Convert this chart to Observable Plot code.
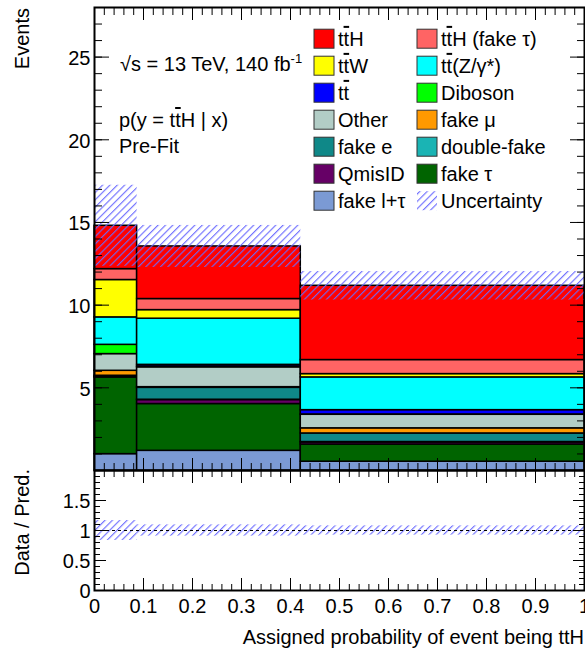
<!DOCTYPE html>
<html><head><meta charset="utf-8">
<script src="https://cdn.jsdelivr.net/npm/d3@7"></script>
<script src="https://cdn.jsdelivr.net/npm/@observablehq/plot@0.6"></script>
<style>
html,body{margin:0;padding:0;background:#fff;}
#wrap{position:relative;width:585px;height:652px;overflow:hidden;font-family:"Liberation Sans",Arial,sans-serif;}
#wrap > svg{position:absolute;left:0;overflow:visible;}
</style></head><body><div id="wrap"></div>
<script>
// ---------- data ----------
const binEdges = [0, 0.087, 0.421, 1];
// processes listed top of stack -> bottom (legend order)
const processes = ["tt\u0304H","tt\u0304H (fake \u03c4)","tt\u0304W","tt\u0304(Z/\u03b3*)","tt\u0304","Diboson","Other","fake \u03bc","fake e","double-fake","QmisID","fake \u03c4","fake l+\u03c4"];
const colors = ["#ff0000","#ff6464","#ffff00","#00ffff","#0000ff","#00ff00","#b2cdc6","#ff9900","#0f8888","#1ab4b4","#660066","#006400","#7b9ad4"];
const ttH        = [2.62, 3.18, 4.49];
const ttHFakeTau = [0.66, 0.67, 0.85];
const ttW        = [2.26, 0.52, 0.20];
const ttZ        = [1.66, 2.79, 1.98];
const ttbar      = [0.00, 0.10, 0.26];
const diboson    = [0.56, 0.05, 0.02];
const other      = [1.01, 1.20, 0.82];
const fakeMu     = [0.30, 0.04, 0.31];
const fakeE      = [0.08, 0.72, 0.52];
const doubleFake = [0.00, 0.02, 0.02];
const qmisID     = [0.02, 0.24, 0.13];
const fakeTau    = [4.64, 2.83, 1.04];
const fakeLTau   = [0.99, 1.19, 0.53];
const uncertainty = [2.45, 1.27, 0.86];
const legendUnc = "Uncertainty";
const yTicksMain = [5, 10, 15, 20, 25];
const yTicksRatio = [0, 0.5, 1, 1.5];
const yTickLabelsRatio = ["0", "0.5", "1", "1.5"];
const xTicks = [0, 0.1, 0.2, 0.3, 0.4, 0.5, 0.6, 0.7, 0.8, 0.9, 1];
const xTickLabels = ["0","0.1","0.2","0.3","0.4","0.5","0.6","0.7","0.8","0.9","1"];
const xTitle = "Assigned probability of event being ttH";
const yTitleMain = "Events";
const yTitleRatio = "Data / Pred.";
const labelLines = ["p(y = tt\u0304H | x)", "Pre-Fit"];

// ---------- derived tables ----------
const series = [ttH, ttHFakeTau, ttW, ttZ, ttbar, diboson, other, fakeMu, fakeE, doubleFake, qmisID, fakeTau, fakeLTau];
const stackRows = [];
const totals = [];
for (let b = 0; b < 3; b++) {
  let cum = 0;
  for (let p = series.length - 1; p >= 0; p--) {
    const v = series[p][b];
    stackRows.push({x1: binEdges[b], x2: binEdges[b+1], y1: cum, y2: cum + v, color: colors[p], name: processes[p]});
    cum += v;
  }
  totals.push(cum);
}
const uncRows = totals.map((t, b) => ({x1: binEdges[b], x2: binEdges[b+1], lo: t - uncertainty[b], hi: t + uncertainty[b]}));
const ratioRows = totals.map((t, b) => ({x1: binEdges[b], x2: binEdges[b+1], lo: 1 - uncertainty[b]/t, hi: 1 + uncertainty[b]/t}));

const FONT = "'Liberation Sans', Arial, Helvetica, sans-serif";
function hatchDefs(id) {
  return () => {
    const defs = d3.create("svg:defs");
    const p = defs.append("pattern").attr("id", id).attr("patternUnits", "userSpaceOnUse")
      .attr("width", 5.2).attr("height", 5.2).attr("patternTransform", "rotate(45)");
    p.append("line").attr("x1", 0.6).attr("y1", 0).attr("x2", 0.6).attr("y2", 5.2)
      .attr("stroke", "#6a6aff").attr("stroke-width", 1.1);
    return defs.node();
  };
}
const blank = () => "";
// text with "tt̄" drawn as t + overlined t
function richText(sel, str) {
  const parts = str.split("tt\u0304");
  parts.forEach((p, i) => {
    if (i > 0) {
      sel.append("tspan").text("t");
      sel.append("tspan").attr("text-decoration", "overline").style("text-decoration", "overline").text("t");
    }
    if (p) sel.append("tspan").text(p);
  });
}

// ---------- main panel ----------
const main = Plot.plot({
  width: 585, height: 471,
  marginTop: 7, marginBottom: 1, marginLeft: 94, marginRight: 1,
  x: {domain: [0, 1]},
  y: {domain: [0, 28]},
  color: {type: "identity"},
  style: {fontFamily: FONT, fontSize: "20px", color: "black", background: "transparent"},
  marks: [
    hatchDefs("hatchMain"),
    Plot.rect(stackRows, {x1: "x1", x2: "x2", y1: "y1", y2: "y2", fill: "color", stroke: "black", strokeWidth: 1.5}),
    Plot.rect(uncRows, {x1: "x1", x2: "x2", y1: "lo", y2: "hi", fill: "url(#hatchMain)"}),
    // ticks (inward, ROOT style)
    Plot.axisY({anchor: "left", ticks: d3.range(0, 29, 1), tickSize: -8, tickFormat: blank, label: null}),
    Plot.axisY({anchor: "left", ticks: d3.range(0, 29, 5), tickSize: -15, tickFormat: blank, label: null}),
    Plot.axisY({anchor: "right", ticks: d3.range(0, 29, 1), tickSize: -8, tickFormat: blank, label: null}),
    Plot.axisY({anchor: "right", ticks: d3.range(0, 29, 5), tickSize: -15, tickFormat: blank, label: null}),
    Plot.axisX({anchor: "top", ticks: d3.range(0, 51).map(i => i/50), tickSize: -7, tickFormat: blank, label: null}),
    Plot.axisX({anchor: "top", ticks: xTicks, tickSize: -12, tickFormat: blank, label: null}),
    Plot.axisX({anchor: "bottom", ticks: d3.range(0, 51).map(i => i/50), tickSize: -7, tickFormat: blank, label: null}),
    Plot.axisX({anchor: "bottom", ticks: xTicks, tickSize: -12, tickFormat: blank, label: null}),
    Plot.axisY({anchor: "left", ticks: yTicksMain, tickSize: 0, tickPadding: 4, dy: 1.5, label: null}),
    Plot.frame({stroke: "black", strokeWidth: 2}),
    // annotations and legend
    () => {
      const g = d3.create("svg:g").attr("font-family", FONT).attr("font-size", 20).attr("fill", "black").attr("text-anchor", "start");
      const t = g.append("text").attr("x", 120).attr("y", 71).attr("text-anchor", "start");
      t.append("tspan").text("\u221as = 13 TeV, 140 fb");
      t.append("tspan").attr("font-size", 13).attr("dy", -8).text("-1");
      labelLines.forEach((s, i) => richText(g.append("text").attr("x", 119).attr("y", 127 + i * 26).attr("text-anchor", "start"), s));
      g.append("text").attr("transform", "translate(28.5,8) rotate(-90)").attr("text-anchor", "end").text(yTitleMain);
      // legend
      const entries = processes.map((n, i) => ({name: n, fill: colors[i]})).concat([{name: legendUnc, fill: "url(#hatchMain)", unc: true}]);
      entries.forEach((e, i) => {
        const col = i % 2, row = Math.floor(i / 2);
        const bx = col === 0 ? 314 : 417;
        const cy = 38.7 + row * 27;
        g.append("rect").attr("x", bx).attr("y", cy - 9.5).attr("width", 20).attr("height", 19)
          .attr("fill", e.fill).attr("stroke", e.unc ? "none" : "#333").attr("stroke-width", 1);
        richText(g.append("text").attr("x", bx + 24).attr("y", cy + 7.2).attr("text-anchor", "start"), e.name);
      });
      return g.node();
    }
  ]
});

// ---------- ratio panel ----------
const ratio = Plot.plot({
  width: 585, height: 182,
  marginTop: 0, marginBottom: 62, marginLeft: 94, marginRight: 1,
  x: {domain: [0, 1]},
  y: {domain: [0, 2]},
  style: {fontFamily: FONT, fontSize: "20px", color: "black", background: "transparent"},
  marks: [
    hatchDefs("hatchRatio"),
    Plot.rect(ratioRows, {x1: "x1", x2: "x2", y1: "lo", y2: "hi", fill: "url(#hatchRatio)"}),
    Plot.ruleY([1], {stroke: "black", strokeWidth: 1, strokeDasharray: "3,3"}),
    Plot.axisY({anchor: "left", ticks: d3.range(0, 21).map(i => i/10), tickSize: -6, tickFormat: blank, label: null}),
    Plot.axisY({anchor: "left", ticks: yTicksRatio, tickSize: -12, tickFormat: blank, label: null}),
    Plot.axisY({anchor: "right", ticks: d3.range(0, 21).map(i => i/10), tickSize: -6, tickFormat: blank, label: null}),
    Plot.axisY({anchor: "right", ticks: yTicksRatio, tickSize: -12, tickFormat: blank, label: null}),
    Plot.axisX({anchor: "top", ticks: d3.range(0, 51).map(i => i/50), tickSize: -6, tickFormat: blank, label: null}),
    Plot.axisX({anchor: "top", ticks: xTicks, tickSize: -12, tickFormat: blank, label: null}),
    Plot.axisX({anchor: "bottom", ticks: d3.range(0, 51).map(i => i/50), tickSize: -6, tickFormat: blank, label: null}),
    Plot.axisX({anchor: "bottom", ticks: xTicks, tickSize: -12, tickFormat: blank, label: null}),
    Plot.axisY({anchor: "left", ticks: yTicksRatio, tickSize: 0, tickPadding: 4, dy: 1, tickFormat: d => yTickLabelsRatio[yTicksRatio.indexOf(d)], label: null}),
    Plot.axisX({anchor: "bottom", ticks: xTicks, tickSize: 0, tickPadding: 8, tickFormat: d => xTickLabels[Math.round(d * 10)], label: null}),
    Plot.frame({stroke: "black", strokeWidth: 2}),
    () => {
      const g = d3.create("svg:g").attr("font-family", FONT).attr("font-size", 20).attr("fill", "black");
      g.append("text").attr("x", 584).attr("y", 644.3 - 470).attr("text-anchor", "end").text(xTitle);
      g.append("text").attr("transform", "translate(28.5,-1) rotate(-90)").attr("text-anchor", "end").text(yTitleRatio);
      return g.node();
    }
  ]
});

const wrap = document.getElementById("wrap");
main.style.top = "0px";
ratio.style.top = "470px";
wrap.appendChild(ratio);
wrap.appendChild(main);
</script></body></html>
